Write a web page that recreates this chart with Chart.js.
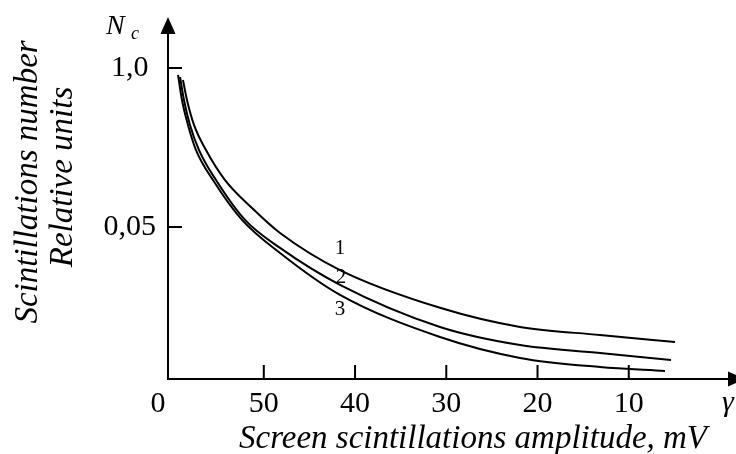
<!DOCTYPE html>
<html>
<head>
<meta charset="utf-8">
<script src="https://cdn.jsdelivr.net/npm/chart.js@4"></script>
<style>
  html, body { margin: 0; padding: 0; background: #fff; }
  #wrap { width: 736px; height: 454px; }
</style>
</head>
<body>
<div id="wrap"><canvas id="chart"></canvas></div>
<script>
// Screen scintillations amplitude (mV) and relative scintillation number
const amp1 = [58.86, 58.42, 57.65, 56.34, 54.25, 51.29, 48.22, 41.65, 30.69, 21.92, 13.15, 4.93];
const num1 = [0.798, 0.547, 0.342, 0.213, 0.121, 0.0714, 0.0446, 0.0222, 0.0109, 0.0076, 0.00653, 0.00572];

const amp2 = [59.18, 58.75, 58.09, 57.10, 55.24, 52.06, 48.22, 41.65, 30.69, 21.92, 13.15, 5.37];
const num2 = [0.844, 0.547, 0.342, 0.213, 0.121, 0.0571, 0.0337, 0.0168, 0.0076, 0.00541, 0.00466, 0.00408];

const amp3 = [59.40, 58.97, 58.31, 57.43, 55.57, 52.39, 48.22, 41.65, 30.69, 21.92, 13.15, 6.03];
const num3 = [0.877, 0.547, 0.342, 0.213, 0.121, 0.0571, 0.0306, 0.0139, 0.00629, 0.00424, 0.00357, 0.00332];

const xTicks = [50, 40, 30, 20, 10];
const yTicks = [1, 0.05];
const yTickLabels = ["1,0", "0,05"];

const serif = "'Liberation Serif', 'DejaVu Serif', serif";

function toPoints(xs, ys) {
  return xs.map((x, i) => ({ x: x, y: ys[i] }));
}

function curve(xs, ys) {
  return {
    data: toPoints(xs, ys),
    borderColor: "#000",
    borderWidth: 2,
    pointRadius: 0,
    fill: false,
    cubicInterpolationMode: "monotone",
  };
}

// axes, arrows, inner tick marks and all the loose text
const decor = {
  id: "decor",
  afterDraw(chart) {
    const ctx = chart.ctx;
    const xs = chart.scales.x;
    const ys = chart.scales.y;
    const ox = chart.chartArea.left;
    const oy = chart.chartArea.bottom;

    ctx.save();
    ctx.strokeStyle = "#000";
    ctx.fillStyle = "#000";
    ctx.lineWidth = 2;

    // axis lines
    ctx.beginPath();
    ctx.moveTo(ox, oy + 1);
    ctx.lineTo(ox, 30);
    ctx.moveTo(ox - 1, oy);
    ctx.lineTo(730, oy);
    ctx.stroke();

    // arrow heads
    ctx.beginPath();
    ctx.moveTo(ox, 17);
    ctx.lineTo(ox - 7.5, 34);
    ctx.lineTo(ox + 7.5, 34);
    ctx.closePath();
    ctx.fill();
    ctx.beginPath();
    ctx.moveTo(745, oy);
    ctx.lineTo(728, oy - 7.5);
    ctx.lineTo(728, oy + 7.5);
    ctx.closePath();
    ctx.fill();

    // tick marks pointing inside
    ctx.beginPath();
    xs.ticks.forEach(t => {
      const px = xs.getPixelForValue(t.value);
      ctx.moveTo(px, oy);
      ctx.lineTo(px, oy - 14);
    });
    ys.ticks.forEach(t => {
      const py = ys.getPixelForValue(t.value);
      ctx.moveTo(ox, py);
      ctx.lineTo(ox + 14, py);
    });
    ctx.stroke();

    // origin label
    ctx.font = "30px " + serif;
    ctx.textAlign = "center";
    ctx.textBaseline = "middle";
    ctx.fillText("0", 158, 404);

    // axis symbols
    ctx.textAlign = "left";
    ctx.textBaseline = "alphabetic";
    ctx.font = "italic 28px " + serif;
    ctx.fillText("N", 106, 34);
    ctx.font = "italic 18px " + serif;
    ctx.fillText("c", 131, 39);
    ctx.font = "italic 30px " + serif;
    ctx.fillText("γ", 722, 411);

    // axis titles
    ctx.font = "italic 33px " + serif;
    ctx.textAlign = "center";
    ctx.fillText("Screen scintillations amplitude, mV", 473, 448);

    ctx.save();
    ctx.translate(37, 182);
    ctx.rotate(-Math.PI / 2);
    ctx.fillText("Scintillations number", 0, 0);
    ctx.restore();
    ctx.save();
    ctx.translate(72, 177);
    ctx.rotate(-Math.PI / 2);
    ctx.fillText("Relative units", 0, 0);
    ctx.restore();

    // curve numbers
    ctx.font = "21px " + serif;
    ctx.textBaseline = "middle";
    ctx.fillText("1", 340, 248);
    ctx.fillText("2", 341, 277);
    ctx.fillText("3", 340, 309);

    ctx.restore();
  },
};

new Chart(document.getElementById("chart").getContext("2d"), {
  type: "line",
  data: {
    datasets: [curve(amp1, num1), curve(amp2, num2), curve(amp3, num3)],
  },
  options: {
    responsive: true,
    maintainAspectRatio: false,
    animation: false,
    layout: { padding: { top: 33, right: 16, left: 0, bottom: 0 } },
    plugins: {
      legend: { display: false },
      tooltip: { enabled: false },
    },
    scales: {
      x: {
        type: "linear",
        reverse: true,
        min: 0,
        max: 60.5,
        afterFit: s => { s.height = 75; },
        afterBuildTicks: s => { s.ticks = xTicks.map(v => ({ value: v })); },
        grid: { display: false, drawTicks: false },
        border: { display: false },
        ticks: {
          color: "#000",
          font: { family: serif, size: 30 },
          padding: 7,
          maxRotation: 0,
          autoSkip: false,
          callback: v => String(v),
        },
      },
      y: {
        type: "logarithmic",
        min: 0.00285,
        max: 1.933,
        afterFit: s => { s.width = 168; },
        afterBuildTicks: s => { s.ticks = yTicks.map(v => ({ value: v })); },
        grid: { display: false, drawTicks: false },
        border: { display: false },
        ticks: {
          color: "#000",
          font: { family: serif, size: 30 },
          padding: 12,
          crossAlign: "center",
          autoSkip: false,
          callback: (v, i) => yTickLabels[i],
        },
      },
    },
  },
  plugins: [decor],
});
</script>
</body>
</html>
